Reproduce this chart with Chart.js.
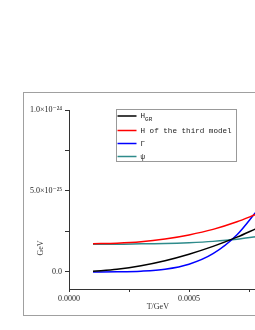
<!DOCTYPE html>
<html>
<head>
<meta charset="utf-8">
<script src="https://cdn.jsdelivr.net/npm/chart.js@4/dist/chart.umd.min.js"></script>
<style>
  html, body { margin: 0; padding: 0; background: #fff; }
  body { width: 255px; height: 330px; overflow: hidden; position: relative; }
  #frame { position: absolute; left: 23px; top: 92px; width: 400px; height: 222px; border: 1px solid #a0a0a0; }
  #chart { position: absolute; left: 0; top: 0; }
</style>
</head>
<body>
<div id="frame"></div>
<canvas id="chart" width="340" height="330" style="width:340px;height:330px"></canvas>
<script>
// temperature T (GeV)
const temps = [0.0001, 0.0002, 0.0003, 0.0004, 0.0005, 0.0006, 0.0007, 0.00078];
// values in units of 1e-25 GeV
const hGR = [0.04, 0.17, 0.39, 0.70, 1.10, 1.58, 2.15, 2.68];
const hThird = [1.74, 1.78, 1.87, 2.04, 2.29, 2.63, 3.10, 3.56];
const gamma = [0.00, 0.01, 0.05, 0.17, 0.48, 1.13, 2.30, 3.72];
const psi = [1.72, 1.72, 1.74, 1.76, 1.81, 1.89, 2.02, 2.18];

const seriesNames = ['H_GR', 'H of the third model', 'Γ', 'ψ'];
const seriesColors = ['#000000', '#ff0000', '#0000ff', '#2e8b8b'];

const yTickLabels = { '0': '0.0', '5': '5.0×10⁻²⁵', '10': '1.0×10⁻²⁴' };
const xLabelStep = 0.0005;

const MONO = '"Liberation Mono", "DejaVu Sans Mono", monospace';
const SERIF = '"Liberation Serif", "DejaVu Serif", serif';

function toPoints(ys) {
  return temps.map((t, i) => ({ x: t, y: ys[i] }));
}

const datasets = [hGR, hThird, gamma, psi].map((ys, i) => ({
  label: seriesNames[i],
  data: toPoints(ys),
  borderColor: seriesColors[i],
  backgroundColor: seriesColors[i],
  borderWidth: 1.5,
  pointRadius: 0,
  fill: false,
  cubicInterpolationMode: 'monotone'
}));

// draws label text, with "_" marking a subscript part
function drawLabel(ctx, text, x, y) {
  const parts = text.split('_');
  ctx.font = '7.6px ' + MONO;
  ctx.fillText(parts[0], x, y);
  if (parts[1]) {
    const w = ctx.measureText(parts[0]).width;
    ctx.font = '6px ' + MONO;
    ctx.fillText(parts[1], x + w, y + 3);
  }
}

const extras = {
  id: 'extras',
  afterDraw(chart) {
    const ctx = chart.ctx;
    const xs = chart.scales.x, ys = chart.scales.y;
    ctx.save();
    // legend box
    const bx = 116.5, by = 109.5, bw = 120, bh = 52;
    ctx.strokeStyle = '#999';
    ctx.lineWidth = 1;
    ctx.strokeRect(bx, by, bw, bh);
    const rows = [116, 130.5, 143.5, 156.5];
    chart.data.datasets.forEach((ds, i) => {
      ctx.strokeStyle = ds.borderColor;
      ctx.lineWidth = 1.5;
      ctx.beginPath();
      ctx.moveTo(bx + 1, rows[i]);
      ctx.lineTo(bx + 20, rows[i]);
      ctx.stroke();
      ctx.fillStyle = '#222';
      ctx.textBaseline = 'middle';
      ctx.textAlign = 'left';
      drawLabel(ctx, ds.label, bx + 24, rows[i]);
    });
    // axis titles
    ctx.fillStyle = '#333';
    ctx.font = '8px ' + SERIF;
    ctx.textAlign = 'center';
    ctx.textBaseline = 'middle';
    ctx.fillText('T/GeV', xs.getPixelForValue(0.00037), 307);
    ctx.translate(41, ys.getPixelForValue(1.48));
    ctx.rotate(-Math.PI / 2);
    ctx.fillText('GeV', 0, 0);
    ctx.restore();
  }
};

new Chart(document.getElementById('chart'), {
  type: 'line',
  data: { datasets: datasets },
  plugins: [extras],
  options: {
    responsive: false,
    animation: false,
    layout: { padding: { top: 110, right: 31, bottom: 0, left: 0 } },
    plugins: { legend: { display: false }, tooltip: { enabled: false } },
    scales: {
      x: {
        type: 'linear',
        min: 0,
        max: 0.001,
        afterFit: (s) => { s.height = 41; },
        border: { display: true, color: '#333', width: 1 },
        grid: { drawOnChartArea: false, drawTicks: true, tickLength: 3, color: '#333' },
        ticks: {
          stepSize: 0.00025,
          autoSkip: false,
          maxRotation: 0,
          padding: 2,
          color: '#222',
          font: { family: SERIF, size: 8 },
          callback: (v) => {
            const k = v / xLabelStep;
            return Math.abs(k - Math.round(k)) < 1e-6 ? v.toFixed(4) : '';
          }
        }
      },
      y: {
        type: 'linear',
        min: -1.05,
        max: 10,
        afterFit: (s) => { s.width = 69; },
        border: { display: true, color: '#333', width: 1 },
        grid: { drawOnChartArea: false, drawTicks: true, tickLength: 4, color: '#333' },
        ticks: {
          stepSize: 2.5,
          includeBounds: false,
          autoSkip: false,
          padding: 3,
          color: '#222',
          font: { family: SERIF, size: 8 },
          callback: (v) => yTickLabels[String(v)] || ''
        }
      }
    }
  }
});
</script>
</body>
</html>
